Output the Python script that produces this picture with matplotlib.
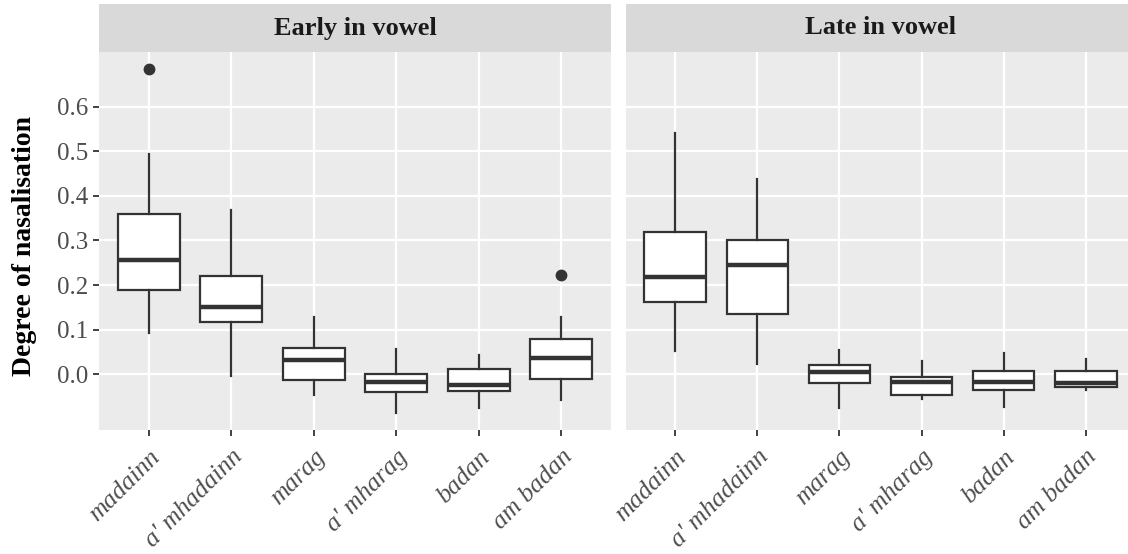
import matplotlib.pyplot as plt

plt.rcParams['font.family'] = ['Liberation Serif', 'DejaVu Serif']

# 词项 (x 轴类别)
words = ["madainn", "a' mhadainn", "marag", "a' mharag", "badan", "am badan"]
panels = ["Early in vowel", "Late in vowel"]

# 箱线图统计量
early_whislo = [0.093, -0.005, -0.047, -0.086, -0.076, -0.058]
early_q1     = [0.188, 0.118, -0.013, -0.039, -0.037, -0.010]
early_med    = [0.257, 0.150, 0.032, -0.018, -0.024, 0.036]
early_q3     = [0.360, 0.220, 0.058, 0.0015, 0.011, 0.078]
early_whishi = [0.493, 0.368, 0.129, 0.056, 0.043, 0.128]
early_fliers = [[0.684], [], [], [], [], [0.223]]

late_whislo = [0.053, 0.022, -0.076, -0.056, -0.073, -0.035]
late_q1     = [0.163, 0.135, -0.020, -0.046, -0.035, -0.028]
late_med    = [0.219, 0.245, 0.004, -0.017, -0.017, -0.020]
late_q3     = [0.318, 0.300, 0.020, -0.007, 0.008, 0.007]
late_whishi = [0.542, 0.437, 0.055, 0.029, 0.047, 0.035]
late_fliers = [[], [], [], [], [], []]

yticks = [0.0, 0.1, 0.2, 0.3, 0.4, 0.5, 0.6]


def make_stats(lo, q1, med, q3, hi, fl):
    stats = []
    for i in range(len(words)):
        stats.append(dict(whislo=lo[i], q1=q1[i], med=med[i], q3=q3[i],
                          whishi=hi[i], fliers=fl[i], label=words[i]))
    return stats


all_stats = [
    make_stats(early_whislo, early_q1, early_med, early_q3, early_whishi, early_fliers),
    make_stats(late_whislo, late_q1, late_med, late_q3, late_whishi, late_fliers),
]

W, H = 1128, 554
fig = plt.figure(figsize=(W / 100, H / 100), dpi=100)

# 面板像素位置 (左, 右)，右侧面板在原图中被裁掉一点
panel_x = [(99, 611), (626, 1135)]
top, bottom, strip_top = 52, 430, 4

dark = '#333333'
for k in range(2):
    x0, x1 = panel_x[k]
    ax = fig.add_axes([x0 / W, 1 - bottom / H, (x1 - x0) / W, (bottom - top) / H])
    ax.set_facecolor('#EBEBEB')
    for s in ax.spines.values():
        s.set_visible(False)

    ax.bxp(all_stats[k], positions=range(1, 7), widths=0.75, patch_artist=True,
           showcaps=False,
           boxprops=dict(facecolor='white', edgecolor=dark, linewidth=1.6),
           medianprops=dict(color=dark, linewidth=3.2),
           whiskerprops=dict(color=dark, linewidth=1.6),
           flierprops=dict(marker='o', markerfacecolor=dark, markeredgecolor=dark,
                           markersize=7.5))

    ax.set_xlim(0.4, 6.6)
    ax.set_ylim(-0.125, 0.7227)
    ax.set_yticks(yticks)
    ax.set_xticks(range(1, 7))
    ax.grid(True, color='white', linewidth=1.6)
    ax.set_axisbelow(True)
    ax.tick_params(axis='both', color='#333333', length=4.5, width=1.3,
                   labelcolor='#4D4D4D', labelsize=18)
    ax.tick_params(axis='x', pad=7)
    ax.set_xticklabels(words, rotation=45, ha='right', va='top',
                       rotation_mode='anchor', style='italic', fontsize=18.5)
    if k == 0:
        ax.set_yticklabels(['%.1f' % v for v in yticks])
        ax.set_ylabel('Degree of nasalisation', fontsize=20, fontweight='bold')
        ax.yaxis.set_label_coords(-0.122, 0.487)
    else:
        ax.tick_params(axis='y', left=False, labelleft=False)

    # 分面标题条
    sx = fig.add_axes([x0 / W, 1 - top / H, (x1 - x0) / W, (top - strip_top) / H])
    sx.set_facecolor('#D9D9D9')
    sx.set_xticks([])
    sx.set_yticks([])
    for s in sx.spines.values():
        s.set_visible(False)
    sx.text(0.5, 0.5, panels[k], ha='center', va='center', fontsize=19,
            fontweight='bold', color='#1A1A1A', transform=sx.transAxes)

plt.savefig('out.png', dpi=100)
